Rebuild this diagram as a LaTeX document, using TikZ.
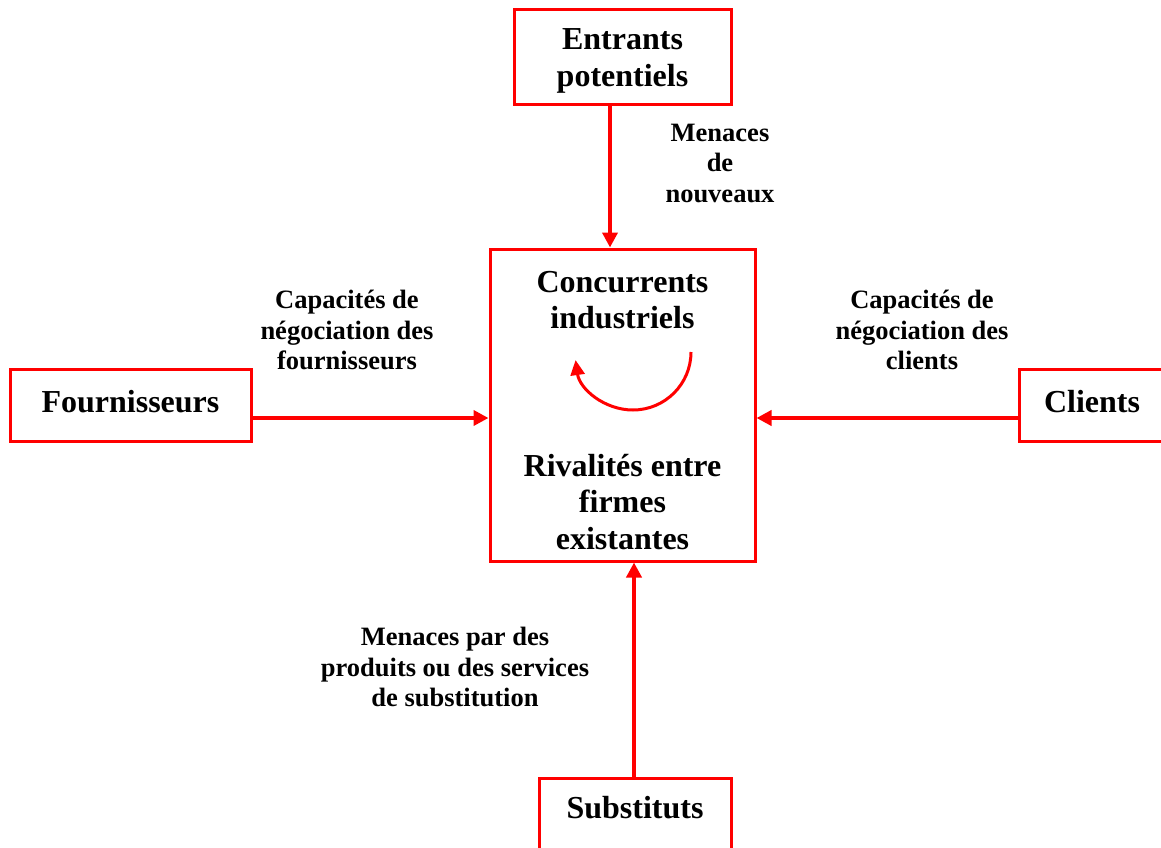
\documentclass[tikz,border=0pt]{standalone}
\usepackage{fontspec}
\setmainfont{Liberation Serif}
\usetikzlibrary{arrows.meta,calc}
\definecolor{fred}{RGB}{255,0,0}
\tikzset{
  force/.style={draw=fred, line width=3pt, fill=white, inner sep=0pt},
  push/.style={draw=fred, line width=4pt, -{Triangle[length=15pt,width=15pt]}},
  note/.style={align=center, font=\fontsize{26.5}{30.5}\selectfont\bfseries},
  bigtxt/.style={align=center, font=\fontsize{32}{36.5}\selectfont\bfseries}
}
\begin{document}
\begin{tikzpicture}[x=1pt,y=-1pt]
\useasboundingbox (0,0) rectangle (1161,848);
\clip (0,0) rectangle (1161,848);

% the five forces
\node[force, minimum width=217pt, minimum height=95pt] (entr) at (622.5,57.5) {};
\node[bigtxt] (entrtxt) at (622.5,61) {Entrants\\potentiels};
\node[force, minimum width=265pt, minimum height=312pt] (conc) at (622.5,405) {};
\node[force, minimum width=241pt, minimum height=72pt] (four) at (130.5,405) {};
\node[bigtxt] (fourtxt) at (130.5,402) {Fournisseurs};
\node[force, minimum width=150pt, minimum height=72pt] (cli) at (1094,405) {};
\node[bigtxt] (clitxt) at (1092,402) {Clients};
\node[force, minimum width=192pt, minimum height=110pt] (subs) at (635,833) {};
\node[bigtxt] (substxt) at (635,808) {Substituts};

% text inside the central box
\node[bigtxt] (conctxt) at (622.5,300) {Concurrents\\industriels};
\node[bigtxt] (rivtxt) at (622.5,502) {Rivalités entre\\firmes\\existantes};

% rivalry loop
\coordinate (loopstart) at (691,352);
\draw[draw=fred, line width=3pt, -{Triangle[length=15pt,width=14pt]}]
  (loopstart) arc[start angle=0, end angle=172, radius=58];

% arrows towards the industry
\draw[push] ($(entr.south)+(-12.5,0)$) -- ($(conc.north)+(-12.5,0)$);
\draw[push] ($(subs.north)+(-1,0)$) -- ($(conc.south)+(11.5,0)$);
\draw[push] ($(four.east)+(0,13)$) -- ($(conc.west)+(0,13)$);
\draw[push] ($(cli.west)+(0,13)$) -- ($(conc.east)+(0,13)$);

% labels
\node[note] (lentr) at (720,163) {Menaces\\de\\nouveaux};
\node[note] (lfour) at (347,330) {Capacités de\\négociation des\\fournisseurs};
\node[note] (lcli) at (922,330) {Capacités de\\négociation des\\clients};
\node[note] (lsubs) at (455,667) {Menaces par des\\produits ou des services\\de substitution};
\end{tikzpicture}
\end{document}
